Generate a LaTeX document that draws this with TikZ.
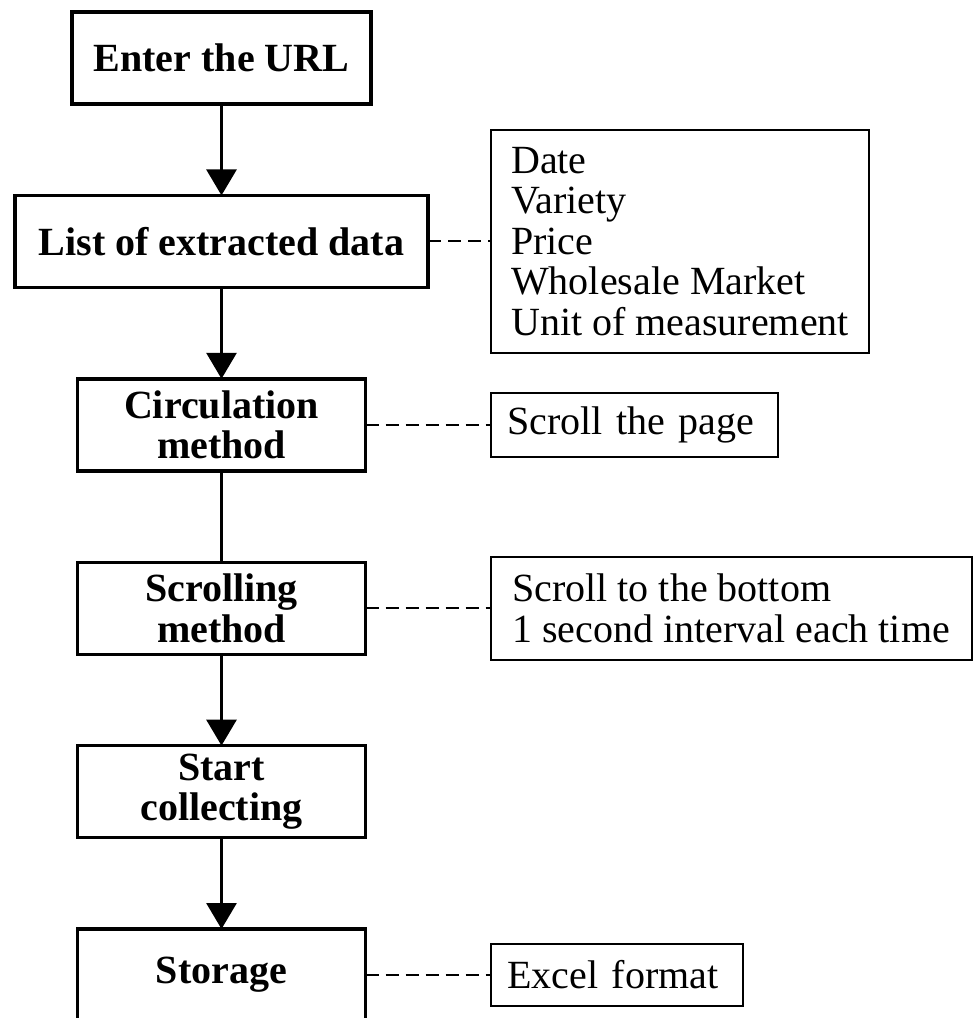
\documentclass[tikz,border=0pt]{standalone}
\usepackage{fontspec}
\setmainfont{Liberation Serif}
\usetikzlibrary{positioning,arrows.meta}

\tikzset{
	mainbox/.style={draw, line width=1.7pt, outer sep=0pt, minimum width=144pt, minimum height=46pt, align=center, font=\fontsize{20pt}{20.25pt}\selectfont\bfseries},
	notebox/.style={draw, line width=1pt, outer sep=0pt, inner xsep=8.5pt, align=left, font=\fontsize{20pt}{20.25pt}\selectfont},
	flow/.style={line width=1.5pt, -{Triangle[length=13pt,width=15pt]}},
	link/.style={line width=1pt, dash pattern=on 6.5pt off 3.5pt}
}

\begin{document}
\begin{tikzpicture}[node distance=45.7pt]
	\useasboundingbox (0,0) rectangle (486.5pt,-509pt);
	\node (url) [mainbox, minimum width=149.5pt] at (110.75pt,-29pt) {Enter the URL};
	\node (list) [mainbox, minimum width=206.5pt, below=of url] {List of extracted data};
	\node (circ) [mainbox, below=of list] {Circulation\\method};
	\node (scroll) [mainbox, below=of circ] {Scrolling\\method};
	\node (start) [mainbox, below=of scroll] {Start\\collecting};
	\node (store) [mainbox, below=of start] {Storage};
	
	\node (fields) [notebox, minimum width=189pt, minimum height=111.5pt, right=31.5pt of list] {Date\\Variety\\Price\\Wholesale Market\\Unit of measurement};
	\node (page) [notebox, text width=126.5pt, minimum height=32pt, right=62.5pt of circ] {Scroll the page};
	\node (bottom) [notebox, minimum width=240.5pt, minimum height=51.5pt, right=62.5pt of scroll] {Scroll to the bottom\\1 second interval each time};
	\node (excel) [notebox, text width=109pt, minimum height=31pt, right=62.5pt of store] {Excel format};
	
	\draw [flow] (url) -- (list);
	\draw [flow] (list) -- (circ);
	\draw [line width=1.5pt] (circ) -- (scroll);
	\draw [flow] (scroll) -- (start);
	\draw [flow] (start) -- (store);
	
	\draw [link] (list) -- (fields);
	\draw [link] (circ) -- (page);
	\draw [link] (scroll) -- (bottom);
	\draw [link] (store) -- (excel);
\end{tikzpicture}
\end{document}
